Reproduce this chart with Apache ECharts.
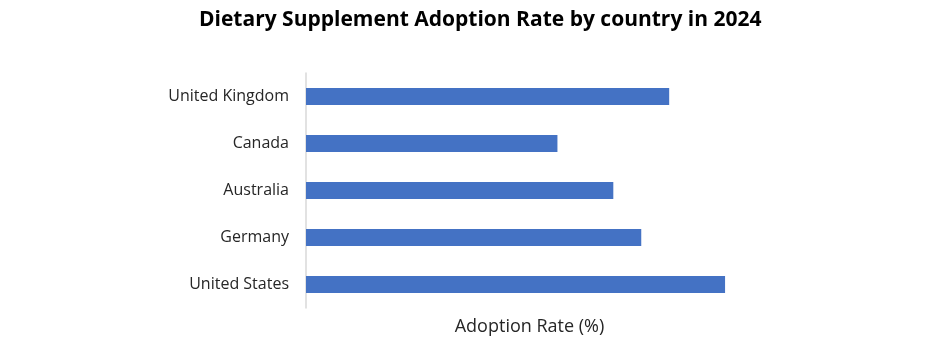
<!DOCTYPE html>
<html><head><meta charset="utf-8">
<script src="https://cdn.jsdelivr.net/npm/echarts@6/dist/echarts.min.js"></script>
<style>html,body{margin:0;padding:0;background:#fff}#c{width:936px;height:364px}</style>
</head><body><div id="c"></div>
<script>
const categories = ["United States", "Germany", "Australia", "Canada", "United Kingdom"];
const adoptionRate = [75, 60, 55, 45, 65];
const xMax = 80;

const chart = echarts.init(document.getElementById('c'), null, {renderer: 'canvas'});
chart.setOption({
  animation: false,
  title: {
    text: 'Dietary Supplement Adoption Rate by country in 2024',
    left: 194, top: 5,
    textStyle: {fontFamily: 'Open Sans', fontWeight: 'bold', fontSize: 21, color: '#000'}
  },
  grid: {left: 306, right: 183, top: 73, bottom: 56, containLabel: false},
  xAxis: {
    type: 'value', min: 0, max: xMax,
    axisLine: {show: false}, axisTick: {show: false}, axisLabel: {show: false},
    splitLine: {show: false},
    name: 'Adoption Rate (%)', nameLocation: 'middle', nameGap: 10,
    nameTextStyle: {fontFamily: 'Open Sans', fontSize: 18, color: '#262626', verticalAlign: 'top'}
  },
  yAxis: {
    type: 'category', data: categories,
    axisLine: {show: true, lineStyle: {color: '#d9d9d9', width: 1.5}},
    axisTick: {show: false},
    axisLabel: {margin: 17, fontFamily: 'Open Sans', fontSize: 16, color: '#262626'}
  },
  series: [{
    type: 'bar', data: adoptionRate, barWidth: 17,
    itemStyle: {color: '#4472c4'}
  }]
});
</script></body></html>
